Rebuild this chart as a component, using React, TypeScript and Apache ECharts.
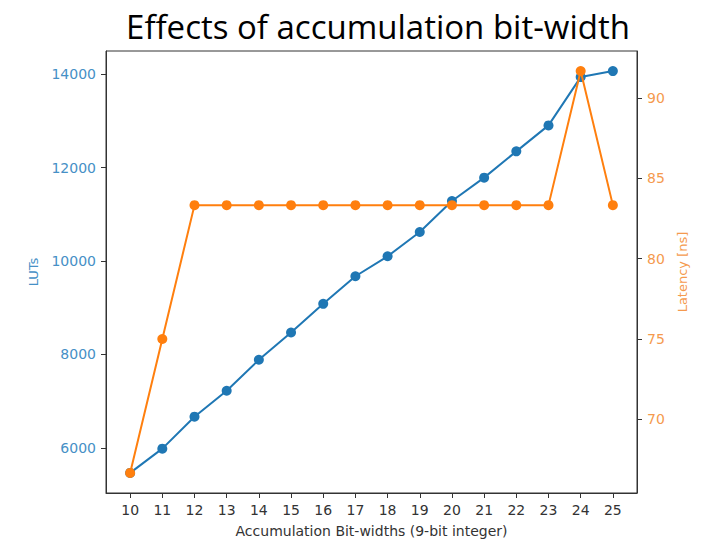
import React, { useEffect, useRef } from "react";
import * as echarts from "echarts";

const bitWidths = [10, 11, 12, 13, 14, 15, 16, 17, 18, 19, 20, 21, 22, 23, 24, 25];
const luts = [5466, 5985, 6669, 7225, 7887, 8471, 9084, 9674, 10102, 10621, 11284, 11785, 12347, 12903, 13937, 14065];
const latency = [66.67, 75, 83.33, 83.33, 83.33, 83.33, 83.33, 83.33, 83.33, 83.33, 83.33, 83.33, 83.33, 83.33, 91.67, 83.33];
const lutTicks = [6000, 8000, 10000, 12000, 14000];
const latTicks = [70, 75, 80, 85, 90];

const BLUE = "#1f77b4";
const ORANGE = "#ff7f0e";
const BLUE_TXT = "#4690c6";
const ORANGE_TXT = "#f59a4e";
const FONT = "DejaVu Sans";

export default function App() {
  const ref = useRef<HTMLDivElement>(null);
  useEffect(() => {
    const chart = echarts.init(ref.current!, null, { renderer: "svg" });
    chart.setOption({
      animation: false,
      backgroundColor: "#fff",
      title: {
        text: "Effects of accumulation bit-width",
        left: 373,
        textAlign: "center",
        top: 5,
        textStyle: { fontFamily: "Open Sans", fontSize: 33, fontWeight: "normal", color: "#000" },
      },
      grid: {
        left: 106,
        right: 64,
        top: 51,
        bottom: 46,
        show: true,
        borderColor: "#333",
        borderWidth: 1,
        outerBoundsMode: "none",
        containLabel: false,
      },
      xAxis: {
        type: "value",
        min: 9.25,
        max: 25.75,
        name: "Accumulation Bit-widths (9-bit integer)",
        nameLocation: "middle",
        nameGap: 31,
        nameTextStyle: { fontFamily: FONT, fontSize: 14, color: "#333" },
        axisLine: { lineStyle: { color: "#333" } },
        axisTick: { show: true, length: 5, customValues: bitWidths, lineStyle: { color: "#333" } },
        axisLabel: { customValues: bitWidths, fontFamily: FONT, fontSize: 14, color: "#333", margin: 10 },
        splitLine: { show: false },
      },
      yAxis: [
        {
          type: "value",
          min: 5036,
          max: 14495,
          name: "LUTs",
          nameLocation: "middle",
          nameGap: 66,
          nameTextStyle: { fontFamily: FONT, fontSize: 13, color: BLUE_TXT },
          axisLine: { show: true, lineStyle: { color: "#333" } },
          axisTick: { show: true, length: 5, customValues: lutTicks, lineStyle: { color: "#333" } },
          axisLabel: {
            customValues: lutTicks,
            formatter: (v: number) => String(Math.round(v)),
            fontFamily: FONT,
            fontSize: 14,
            color: BLUE_TXT,
            margin: 10,
          },
          splitLine: { show: false },
        },
        {
          type: "value",
          min: 65.42,
          max: 92.92,
          position: "right",
          name: "Latency [ns]",
          nameLocation: "middle",
          nameGap: 32,
          nameRotate: 90,
          nameTextStyle: { fontFamily: FONT, fontSize: 13, color: ORANGE_TXT },
          axisLine: { show: true, lineStyle: { color: "#333" } },
          axisTick: { show: true, length: 5, customValues: latTicks, lineStyle: { color: "#333" } },
          axisLabel: { customValues: latTicks, fontFamily: FONT, fontSize: 14, color: ORANGE_TXT, margin: 10 },
          splitLine: { show: false },
        },
      ],
      series: [
        {
          type: "line",
          yAxisIndex: 0,
          data: bitWidths.map((b, i) => [b, luts[i]]),
          symbol: "circle",
          symbolSize: 10,
          itemStyle: { color: BLUE },
          lineStyle: { color: BLUE, width: 2 },
          z: 2,
        },
        {
          type: "line",
          yAxisIndex: 1,
          data: bitWidths.map((b, i) => [b, latency[i]]),
          symbol: "circle",
          symbolSize: 10,
          itemStyle: { color: ORANGE },
          lineStyle: { color: ORANGE, width: 2 },
          z: 3,
        },
      ],
    });
    return () => chart.dispose();
  }, []);
  return <div ref={ref} style={{ width: 701, height: 539, position: "absolute", left: 0, top: 0 }} />;
}
